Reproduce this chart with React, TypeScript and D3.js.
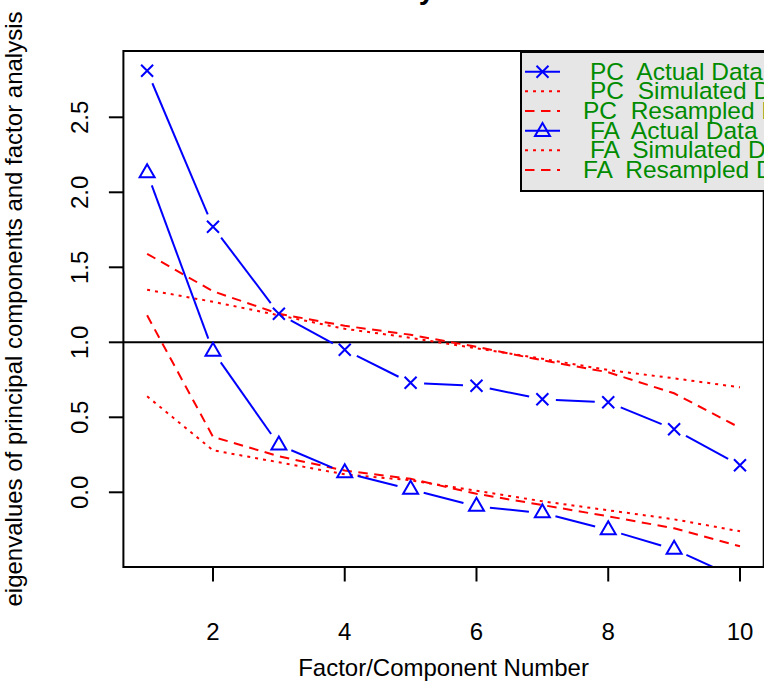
import React from "react";
import * as d3 from "d3";

// Factor / component numbers
const factors = [1, 2, 3, 4, 5, 6, 7, 8, 9, 10];

// Eigenvalues, principal components
const pcActual = [2.81, 1.77, 1.19, 0.95, 0.73, 0.71, 0.62, 0.6, 0.42, 0.18];
const pcSimulated = [1.35, 1.27, 1.18, 1.09, 1.03, 0.96, 0.89, 0.815, 0.76, 0.7];
const pcResampled = [1.59, 1.34, 1.19, 1.11, 1.05, 0.97, 0.88, 0.8, 0.66, 0.43];

// Eigenvalues, factor analysis
const faActual = [2.13, 0.94, 0.315, 0.13, 0.02, -0.094, -0.138, -0.25, -0.38, -0.58];
const faSimulated = [0.64, 0.28, 0.2, 0.12, 0.08, 0.01, -0.06, -0.12, -0.18, -0.26];
const faResampled = [1.18, 0.37, 0.24, 0.145, 0.09, -0.01, -0.085, -0.16, -0.24, -0.36];

// Axis ticks
const xTicks = [2, 4, 6, 8, 10];
const yTicks = [0, 0.5, 1, 1.5, 2, 2.5];

// Legend entries
const legendMethods = ["PC", "PC", "PC", "FA", "FA", "FA"];
const legendSources = [
  "Actual Data",
  "Simulated Data",
  "Resampled Data",
  "Actual Data",
  "Simulated Data",
  "Resampled Data",
];

const W = 764;
const H = 691;
const FONT = "'Liberation Sans', Arial, Helvetica, sans-serif";
const BLUE = "#0000ff";
const RED = "#ff0000";
const GREEN = "#008b00";
const DASH = "9.5 6.5";
const DOT = "3 5";

const plot = { left: 123.4, right: 763.7, top: 51, bottom: 567 };

const x = d3.scaleLinear().domain([0.64, 10.36]).range([plot.left, plot.right]);
const y = d3.scaleLinear().domain([-0.498, 2.942]).range([plot.bottom, plot.top]);

const line = d3
  .line<number>()
  .x((_, i) => x(factors[i]))
  .y((d) => y(d));

// Segments between points with a gap around each marker (R's type = "b")
function gappedSegments(values: number[], gap: number) {
  const pts = values.map((v, i) => [x(factors[i]), y(v)]);
  const segs: [number, number, number, number][] = [];
  for (let i = 0; i < pts.length - 1; i++) {
    const [x0, y0] = pts[i];
    const [x1, y1] = pts[i + 1];
    const len = Math.hypot(x1 - x0, y1 - y0);
    if (len <= 2 * gap) continue;
    const ux = (x1 - x0) / len;
    const uy = (y1 - y0) / len;
    segs.push([x0 + ux * gap, y0 + uy * gap, x1 - ux * gap, y1 - uy * gap]);
  }
  return segs;
}

function Cross({ cx, cy, s = 6 }: { cx: number; cy: number; s?: number }) {
  return (
    <path
      d={`M${cx - s},${cy - s}L${cx + s},${cy + s}M${cx - s},${cy + s}L${cx + s},${cy - s}`}
      stroke={BLUE}
      strokeWidth={2}
      fill="none"
    />
  );
}

function Triangle({ cx, cy, r = 8.66 }: { cx: number; cy: number; r?: number }) {
  const hx = (r * Math.sqrt(3)) / 2;
  return (
    <path
      d={`M${cx},${cy - r}L${cx + hx},${cy + r / 2}L${cx - hx},${cy + r / 2}Z`}
      stroke={BLUE}
      strokeWidth={2}
      fill="none"
    />
  );
}

export default function App() {
  const gap = 13.5;
  const pcSegs = gappedSegments(pcActual, gap);
  const faSegs = gappedSegments(faActual, gap);

  const legend = { left: 521, top: 52, bottom: 191, rowStart: 71.7, rowStep: 19.65 };

  return (
    <svg
      width={W}
      height={H}
      viewBox={`0 0 ${W} ${H}`}
      style={{ position: "absolute", left: 0, top: 0, background: "#fff" }}
      fontFamily={FONT}
    >
      <defs>
        <clipPath id="plotClip">
          <rect x={plot.left} y={plot.top} width={plot.right - plot.left} height={plot.bottom - plot.top} />
        </clipPath>
      </defs>

      {/* Title (sits above the top edge) */}
      <text x={(plot.left + plot.right) / 2} y={-1.5} textAnchor="middle" fontSize={29} fontWeight="bold">
        Parallel Analysis Scree Plots
      </text>

      <g clipPath="url(#plotClip)">
        {/* Reference line at eigenvalue 1 */}
        <line x1={plot.left} x2={plot.right} y1={y(1)} y2={y(1)} stroke="#000" strokeWidth={2} />

        {/* Simulated and resampled eigenvalues */}
        <path d={line(pcSimulated) ?? ""} fill="none" stroke={RED} strokeWidth={2} strokeDasharray={DOT} />
        <path d={line(pcResampled) ?? ""} fill="none" stroke={RED} strokeWidth={2} strokeDasharray={DASH} />
        <path d={line(faSimulated) ?? ""} fill="none" stroke={RED} strokeWidth={2} strokeDasharray={DOT} />
        <path d={line(faResampled) ?? ""} fill="none" stroke={RED} strokeWidth={2} strokeDasharray={DASH} />

        {/* Actual data: principal components */}
        {pcSegs.map((s, i) => (
          <line key={`pcs${i}`} x1={s[0]} y1={s[1]} x2={s[2]} y2={s[3]} stroke={BLUE} strokeWidth={2} />
        ))}
        {pcActual.map((v, i) => (
          <Cross key={`pcp${i}`} cx={x(factors[i])} cy={y(v)} />
        ))}

        {/* Actual data: factor analysis */}
        {faSegs.map((s, i) => (
          <line key={`fas${i}`} x1={s[0]} y1={s[1]} x2={s[2]} y2={s[3]} stroke={BLUE} strokeWidth={2} />
        ))}
        {faActual.map((v, i) => (
          <Triangle key={`fap${i}`} cx={x(factors[i])} cy={y(v)} />
        ))}
      </g>

      {/* Plot frame */}
      <rect
        x={plot.left}
        y={plot.top}
        width={plot.right - plot.left}
        height={plot.bottom - plot.top}
        fill="none"
        stroke="#000"
        strokeWidth={2}
      />

      {/* X axis */}
      {xTicks.map((t) => (
        <g key={`xt${t}`}>
          <line x1={x(t)} x2={x(t)} y1={plot.bottom} y2={plot.bottom + 14.5} stroke="#000" strokeWidth={2} />
          <text x={x(t)} y={640} textAnchor="middle" fontSize={24}>
            {t}
          </text>
        </g>
      ))}
      <text x={(plot.left + plot.right) / 2} y={676} textAnchor="middle" fontSize={24}>
        Factor/Component Number
      </text>

      {/* Y axis */}
      {yTicks.map((t) => (
        <g key={`yt${t}`}>
          <line x1={plot.left - 14.5} x2={plot.left} y1={y(t)} y2={y(t)} stroke="#000" strokeWidth={2} />
          <text
            transform={`translate(88,${y(t)}) rotate(-90)`}
            textAnchor="middle"
            fontSize={24}
          >
            {d3.format(".1f")(t)}
          </text>
        </g>
      ))}
      <text
        transform={`translate(22,${(plot.top + plot.bottom) / 2}) rotate(-90)`}
        textAnchor="middle"
        fontSize={24}
      >
        eigenvalues of principal components and factor analysis
      </text>

      {/* Legend */}
      <rect
        x={legend.left}
        y={legend.top}
        width={W + 20 - legend.left}
        height={legend.bottom - legend.top}
        fill="#e6e6e6"
        stroke="#000"
        strokeWidth={2}
      />
      {legendSources.map((src, i) => {
        const cy = legend.rowStart + i * legend.rowStep;
        const actual = src.startsWith("Actual");
        const dash = src.startsWith("Simulated") ? DOT : src.startsWith("Resampled") ? DASH : undefined;
        const tx = src.startsWith("Resampled") ? 583 : 590;
        return (
          <g key={`lg${i}`}>
            <line
              x1={525}
              x2={560}
              y1={cy}
              y2={cy}
              stroke={actual ? BLUE : RED}
              strokeWidth={2}
              strokeDasharray={dash}
            />
            {actual && (legendMethods[i] === "PC" ? <Cross cx={542.5} cy={cy} /> : <Triangle cx={542.5} cy={cy + 1} />)}
            <text x={tx} y={cy + 8} fontSize={24.5} fill={GREEN} style={{ whiteSpace: "pre" }}>
              {`${legendMethods[i]}  ${src}`}
            </text>
          </g>
        );
      })}
    </svg>
  );
}
